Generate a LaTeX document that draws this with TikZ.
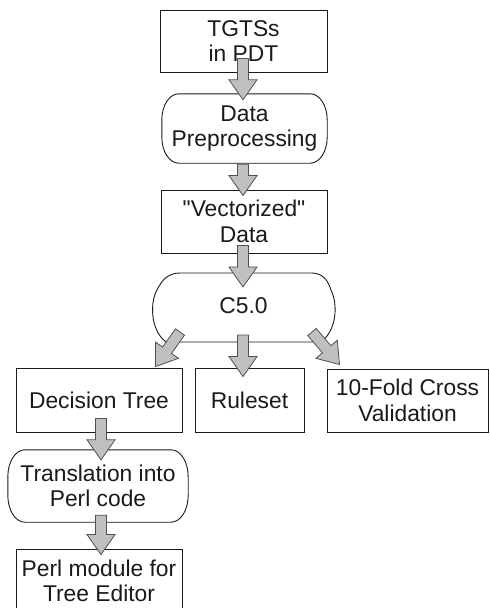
\documentclass[tikz,border=0pt]{standalone}
\usepackage{fontspec}
\setmainfont{Liberation Sans}
\newfontfamily\plainsans{Liberation Sans}
\usetikzlibrary{calc}
\definecolor{arrowfill}{HTML}{C0C0C0}
\definecolor{arrowline}{HTML}{505050}
\definecolor{inkc}{HTML}{1A1A1A}
\tikzset{
  labelnode/.style={align=center, text=inkc, font=\plainsans\fontsize{22.8}{25.5}\selectfont, inner sep=0pt},
  boxnode/.style={labelnode, draw=inkc, line width=0.9pt, rectangle},
  roundnode/.style={labelnode, rectangle},
  outline/.style={draw=inkc, line width=0.9pt},
  fatarrowstyle/.style={draw=arrowline, fill=arrowfill, line width=0.8pt, line join=miter},
}
\newcommand\fatarrow[2]{%
  \coordinate (fahead) at ($(#2)!20pt!(#1)$);
  \draw[fatarrowstyle] ($(#1)!5.5pt!90:(#2)$) -- ($(fahead)!5.5pt!90:(#2)$)
    -- ($(fahead)!14pt!90:(#2)$) -- (#2) -- ($(fahead)!14pt!-90:(#2)$)
    -- ($(fahead)!5.5pt!-90:(#2)$) -- ($(#1)!5.5pt!-90:(#2)$) -- cycle;}
% rounded outline with elliptical corners: #1 node, #2 x radius, #3 y radius
\newcommand\pillpath[3]{%
  \draw[outline] ($(#1.north west)+(#2,0)$) -- ($(#1.north east)+(-#2,0)$)
    arc[start angle=90, end angle=0, x radius=#2pt, y radius=#3pt]
    -- ($(#1.south east)+(0,-#3)$)
    arc[start angle=0, end angle=-90, x radius=#2pt, y radius=#3pt]
    -- ($(#1.south west)+(#2,0)$)
    arc[start angle=270, end angle=180, x radius=#2pt, y radius=#3pt]
    -- ($(#1.north west)+(0,#3)$)
    arc[start angle=180, end angle=90, x radius=#2pt, y radius=#3pt] -- cycle;}
\begin{document}
\begin{tikzpicture}[x=1pt,y=-1pt]
\useasboundingbox (0,0) rectangle (490,608);
\clip (0,0) rectangle (490,608);
\fill[white] (0,0) rectangle (490,608);
% nodes
\node[boxnode, minimum width=167pt, minimum height=62pt] (tgts) at (243.5,41) {TGTSs\\in PDT};
\node[roundnode, minimum width=165pt, minimum height=69pt] (prep) at (244.5,128.5) {Data\\Preprocessing};
\pillpath{prep}{17}{26}
\node[boxnode, minimum width=166pt, minimum height=63pt] (vect) at (244,221.5) {"Vectorized"\\Data};
\node[labelnode] (c5) at (243.5,306) {C5.0};
\draw[outline] (166,342) .. controls (150,330) and (150,302) .. (157,290)
  .. controls (162,280) and (168,273) .. (180,273) -- (312,273)
  .. controls (322,273) and (328,280) .. (331,290)
  .. controls (338,304) and (337,330) .. (321,342) -- cycle;
\node[boxnode, minimum width=166pt, minimum height=64pt] (dt) at (99,400) {Decision Tree};
\node[boxnode, minimum width=109pt, minimum height=64pt] (rules) at (249.5,400) {Ruleset};
\node[boxnode, minimum width=161pt, minimum height=63pt] (cv) at (407.5,400.5) {10-Fold Cross\\Validation};
\node[roundnode, minimum width=180pt, minimum height=72pt] (trans) at (98,486) {Translation into\\Perl code};
\pillpath{trans}{17}{27}
\node[boxnode, minimum width=166pt, minimum height=64pt] (perl) at (99,581) {Perl module for\\Tree Editor};
% arrow ends
\coordinate (a1s) at ($(tgts.south)+(-0.5,-14)$);
\coordinate (a1e) at ($(prep.north)+(-1.5,6)$);
\coordinate (a2s) at ($(prep.south)+(-1.5,1)$);
\coordinate (a2e) at ($(vect.north)+(-1,6)$);
\coordinate (a3s) at ($(vect.south)+(-1,-8)$);
\coordinate (a3e) at (243,287);
\coordinate (l1s) at (180,332);
\coordinate (l1e) at ($(dt.north east)+(-27,-1)$);
\coordinate (m1s) at (243,335);
\coordinate (m1e) at ($(rules.north)+(-6.5,9)$);
\coordinate (r1s) at (312,332);
\coordinate (r1e) at ($(cv.north west)+(13,-4)$);
\coordinate (d1s) at ($(dt.south)+(2,-14)$);
\coordinate (d1e) at ($(trans.north)+(3,10)$);
\coordinate (t1s) at ($(trans.south)+(3,-7)$);
\coordinate (t1e) at ($(perl.north)+(2,6)$);
% arrows
\fatarrow{a1s}{a1e}
\fatarrow{a2s}{a2e}
\fatarrow{a3s}{a3e}
\fatarrow{l1s}{l1e}
\fatarrow{m1s}{m1e}
\fatarrow{r1s}{r1e}
\fatarrow{d1s}{d1e}
\fatarrow{t1s}{t1e}
\end{tikzpicture}
\end{document}
